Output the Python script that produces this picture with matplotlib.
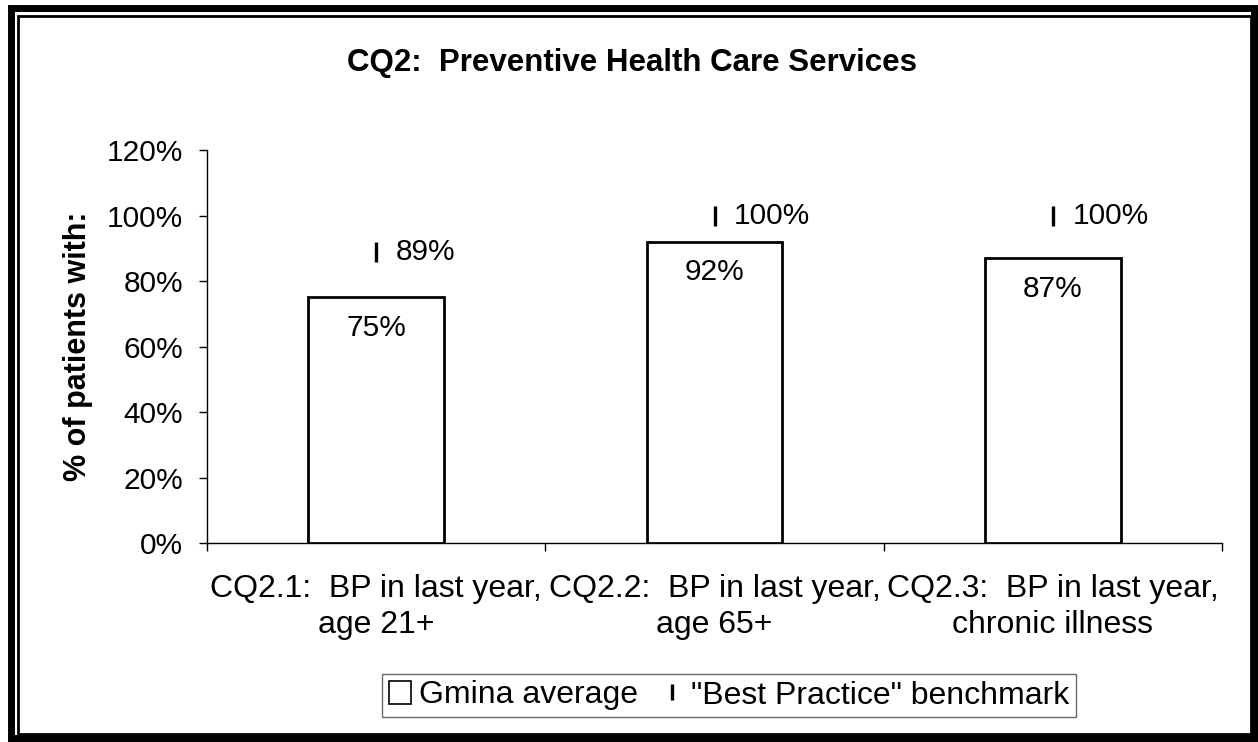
import matplotlib
matplotlib.use("Agg")
import matplotlib.pyplot as plt
from matplotlib.patches import Rectangle
from matplotlib.lines import Line2D
import numpy as np

categories = ["CQ2.1:  BP in last year,\nage 21+",
              "CQ2.2:  BP in last year,\nage 65+",
              "CQ2.3:  BP in last year,\nchronic illness"]
gmina_avg = [0.75, 0.92, 0.87]
benchmark = [0.89, 1.00, 1.00]
yticks = [0, 0.2, 0.4, 0.6, 0.8, 1.0, 1.2]

plt.rcParams['font.family'] = ['Liberation Sans', 'DejaVu Sans']
FS = 21.5

W, H = 1258, 742
fig = plt.figure(figsize=(W/100, H/100), dpi=100)

# frame drawing in pixel coordinates
bg = fig.add_axes([0, 0, 1, 1], zorder=-10)
bg.set_xlim(0, W); bg.set_ylim(H, 0); bg.axis('off')
bg.add_patch(Rectangle((10.5, 8), 1243, 729.5, fill=False, lw=5.0, ec='black'))
bg.add_patch(Rectangle((17.5, 15.5), 1233, 718.5, fill=False, lw=2.0, ec='black'))

L, R, T, B = 207, 1222, 150, 543
ax = fig.add_axes([L/W, 1-B/H, (R-L)/W, (B-T)/H])
x = np.arange(len(categories))
ax.bar(x, gmina_avg, width=0.4, color='white', edgecolor='black', linewidth=2, zorder=3)
ax.plot(x, benchmark, linestyle='none', marker='|', markersize=15, markeredgewidth=2.4,
        color='black', zorder=4)

for xi, v in zip(x, gmina_avg):
    ax.annotate(f"{v*100:.0f}%", (xi, v), xytext=(0, -12), textcoords='offset points',
                ha='center', va='top', fontsize=FS)
for xi, v in zip(x, benchmark):
    ax.annotate(f"{v*100:.0f}%", (xi, v), xytext=(14, 0), textcoords='offset points',
                ha='left', va='center', fontsize=FS)

ax.set_xlim(-0.5, len(categories)-0.5)
ax.set_ylim(0, 1.2)
ax.set_yticks(yticks)
ax.set_yticklabels([f"{int(round(t*100))}%" for t in yticks], fontsize=FS)
ax.tick_params(axis='y', direction='out', length=6, width=1, pad=11)
ax.set_xticks([-0.5, 0.5, 1.5, 2.5])
ax.set_xticklabels([])
ax.set_xticks(x, minor=True)
ax.set_xticklabels(categories, minor=True, fontsize=23, linespacing=1.3)
ax.tick_params(axis='x', which='major', direction='out', length=6, width=1)
ax.tick_params(axis='x', which='minor', length=0, pad=22)
for s in ['top', 'right']:
    ax.spines[s].set_visible(False)
ax.spines['left'].set_linewidth(1)
ax.spines['bottom'].set_linewidth(1)
ax.set_ylabel("% of patients with:", fontsize=22, fontweight='bold', labelpad=10)

fig.text(632/W, 1-63/H, "CQ2:  Preventive Health Care Services", ha='center', va='center',
         fontsize=22.5, fontweight='bold')

handles = [Rectangle((0, 0), 1, 1, facecolor='white', edgecolor='black', lw=1.2),
           Line2D([], [], linestyle='none', marker='|', markersize=11, markeredgewidth=2.4, color='black')]
leg = fig.legend(handles, ["Gmina average", '"Best Practice" benchmark'], loc='center',
                 bbox_to_anchor=(729/W, 1-695.5/H), ncol=2, fontsize=23, frameon=True,
                 fancybox=False, edgecolor='#444444', handlelength=0.7, handleheight=0.7,
                 handletextpad=0.25, columnspacing=0.7, borderpad=0.2, borderaxespad=0)
leg.get_frame().set_linewidth(1)

fig.savefig("out.png", dpi=100)
